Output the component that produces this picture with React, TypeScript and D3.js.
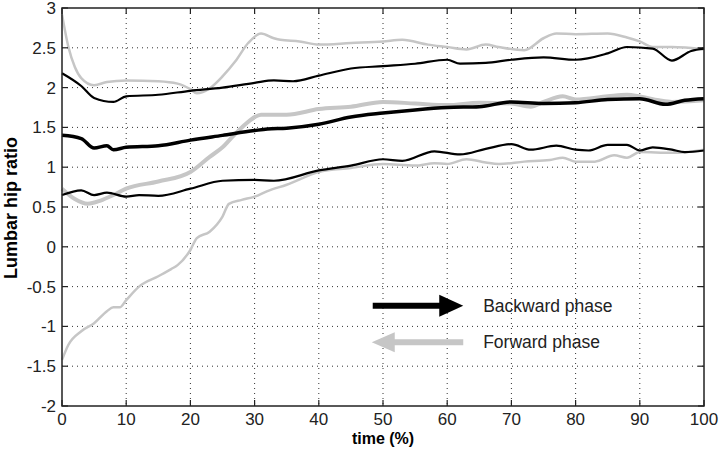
import React from "react";
import * as d3 from "d3";

const W = 719;
const H = 453;

// Backward phase (black)
const backUpperT = [0, 3, 5, 8, 10, 15, 20, 25, 30, 33, 36, 40, 45, 50, 55, 60, 62, 66, 70, 75, 80, 85, 88, 92, 95, 98, 100];
const backUpperV = [2.18, 2.02, 1.87, 1.82, 1.89, 1.91, 1.96, 2.0, 2.06, 2.09, 2.08, 2.15, 2.24, 2.27, 2.3, 2.35, 2.3, 2.31, 2.35, 2.38, 2.35, 2.43, 2.51, 2.49, 2.34, 2.46, 2.49];

const backMeanT = [0, 3, 5, 7, 8, 10, 15, 20, 25, 30, 32, 35, 40, 45, 50, 55, 60, 65, 70, 75, 80, 85, 90, 94, 97, 100];
const backMeanV = [1.4, 1.36, 1.24, 1.27, 1.22, 1.25, 1.27, 1.34, 1.4, 1.46, 1.48, 1.49, 1.54, 1.63, 1.68, 1.72, 1.75, 1.76, 1.82, 1.8, 1.81, 1.85, 1.86, 1.79, 1.84, 1.86];

const backLowerT = [0, 3, 5, 7, 10, 12, 15, 20, 25, 30, 33, 40, 45, 50, 53, 58, 62, 66, 70, 73, 77, 80, 82, 85, 88, 90, 92, 95, 97, 100];
const backLowerV = [0.65, 0.71, 0.65, 0.68, 0.63, 0.65, 0.64, 0.73, 0.83, 0.84, 0.83, 0.96, 1.02, 1.1, 1.08, 1.2, 1.16, 1.23, 1.29, 1.22, 1.27, 1.22, 1.21, 1.28, 1.28, 1.21, 1.25, 1.22, 1.19, 1.21];

// Forward phase (grey)
const fwdUpperT = [0, 1, 2, 3, 5, 7, 10, 15, 18, 20, 21, 23, 25, 27, 29, 31, 33, 34, 37, 40, 45, 50, 53, 57, 60, 63, 66, 68, 72, 75, 77, 80, 85, 88, 90, 92, 95, 100];
const fwdUpperV = [2.92, 2.51, 2.26, 2.12, 2.03, 2.07, 2.09, 2.08, 2.05, 1.98, 1.93, 1.99, 2.14, 2.33, 2.56, 2.68, 2.62, 2.6, 2.58, 2.54, 2.56, 2.58, 2.6, 2.54, 2.51, 2.48, 2.54, 2.51, 2.47, 2.62, 2.68, 2.67, 2.68, 2.63, 2.58, 2.51, 2.51, 2.48];

const fwdMeanT = [0, 2, 4, 6, 8, 10, 15, 20, 23, 25, 27, 29, 31, 33, 35, 40, 45, 50, 55, 60, 65, 70, 73, 75, 78, 80, 85, 88, 90, 93, 95, 100];
const fwdMeanV = [0.73, 0.6, 0.54, 0.58, 0.65, 0.73, 0.82, 0.94, 1.13, 1.25, 1.42, 1.57, 1.66, 1.66, 1.66, 1.73, 1.76, 1.82, 1.8, 1.78, 1.81, 1.8, 1.76, 1.82, 1.89, 1.85, 1.89, 1.91, 1.89, 1.84, 1.82, 1.84];

const fwdLowerT = [0, 1, 3, 5, 7, 8, 9, 10, 12, 15, 17, 18, 20, 21, 23, 25, 26, 28, 30, 32, 35, 40, 45, 50, 55, 58, 60, 63, 66, 68, 72, 76, 78, 80, 83, 86, 88, 90, 95, 100];
const fwdLowerV = [-1.42, -1.23, -1.06, -0.96, -0.81, -0.76, -0.76, -0.67, -0.5, -0.37, -0.28, -0.23, -0.04, 0.11, 0.19, 0.38, 0.54, 0.59, 0.63, 0.7, 0.78, 0.94, 0.99, 1.04, 1.02, 1.05, 1.04, 1.1, 1.06, 1.04, 1.07, 1.09, 1.12, 1.07, 1.07, 1.15, 1.12, 1.19, 1.18, 1.22];

const xTicks = [0, 10, 20, 30, 40, 50, 60, 70, 80, 90, 100];
const yTicks = [-2, -1.5, -1, -0.5, 0, 0.5, 1, 1.5, 2, 2.5, 3];
const legendLabels = ["Backward phase", "Forward phase"];

const GREY = "#c6c6c6";
const FONT = "Arial, 'Liberation Sans', Helvetica, sans-serif";

export default function App() {
  const left = 62, right = 704, top = 8, bottom = 406;
  const x = d3.scaleLinear().domain([0, 100]).range([left, right]);
  const y = d3.scaleLinear().domain([-2, 3]).range([bottom, top]);

  const mk = (ts: number[], vs: number[]) =>
    d3.line<number>().x((_, i) => x(ts[i])).y((v) => y(v)).curve(d3.curveMonotoneX)(vs) || "";

  const series = [
    { t: fwdUpperT, v: fwdUpperV, c: GREY, w: 2.5 },
    { t: fwdLowerT, v: fwdLowerV, c: GREY, w: 2.5 },
    { t: fwdMeanT, v: fwdMeanV, c: GREY, w: 4 },
    { t: backUpperT, v: backUpperV, c: "#000", w: 2.2 },
    { t: backLowerT, v: backLowerV, c: "#000", w: 2.2 },
    { t: backMeanT, v: backMeanV, c: "#000", w: 3.5 },
  ];

  const tick = 6;
  const axisColor = "#222";

  // legend geometry in data coordinates
  const bY = y(-0.74);
  const fY = y(-1.2);
  const aL = x(48.4);
  const aR = x(62.5);
  const txtX = x(65.6);

  return (
    <svg width={W} height={H} style={{ display: "block", position: "absolute", left: 0, top: 0, background: "#fff" }}>
      <rect x={0} y={0} width={W} height={H} fill="#fff" />
      {/* grid */}
      {xTicks.slice(1, -1).map((t) => (
        <line key={"gx" + t} x1={x(t)} x2={x(t)} y1={top} y2={bottom} stroke="#333" strokeWidth={1} strokeDasharray="1,4" />
      ))}
      {yTicks.slice(1, -1).map((t) => (
        <line key={"gy" + t} x1={left} x2={right} y1={y(t)} y2={y(t)} stroke="#333" strokeWidth={1} strokeDasharray="1,4" />
      ))}
      {/* series */}
      {series.map((s, i) => (
        <path key={i} d={mk(s.t, s.v)} fill="none" stroke={s.c} strokeWidth={s.w} strokeLinejoin="round" />
      ))}
      {/* legend */}
      <line x1={aL} x2={aR - 22} y1={bY} y2={bY} stroke="#000" strokeWidth={6} />
      <path d={`M${aR - 24},${bY - 11} L${aR},${bY} L${aR - 24},${bY + 11} Z`} fill="#000" />
      <text x={txtX} y={bY} dy="0.35em" fontSize={17.5} fontFamily={FONT} fill="#222">{legendLabels[0]}</text>
      <line x1={aL + 20} x2={aR} y1={fY} y2={fY} stroke={GREY} strokeWidth={6} />
      <path d={`M${aL + 22},${fY - 10} L${aL - 1},${fY} L${aL + 22},${fY + 10} Z`} fill={GREY} />
      <text x={txtX} y={fY} dy="0.35em" fontSize={17.5} fontFamily={FONT} fill="#222">{legendLabels[1]}</text>
      {/* axes box */}
      <rect x={left} y={top} width={right - left} height={bottom - top} fill="none" stroke={axisColor} strokeWidth={1.5} />
      {xTicks.map((t) => (
        <g key={"xt" + t}>
          <line x1={x(t)} x2={x(t)} y1={bottom} y2={bottom - tick} stroke={axisColor} strokeWidth={1.2} />
          <line x1={x(t)} x2={x(t)} y1={top} y2={top + tick} stroke={axisColor} strokeWidth={1.2} />
          <text x={x(t)} y={bottom + 19} textAnchor="middle" fontSize={17} fontFamily={FONT} fill="#222">{t}</text>
        </g>
      ))}
      {yTicks.map((t) => (
        <g key={"yt" + t}>
          <line x1={left} x2={left + tick} y1={y(t)} y2={y(t)} stroke={axisColor} strokeWidth={1.2} />
          <line x1={right} x2={right - tick} y1={y(t)} y2={y(t)} stroke={axisColor} strokeWidth={1.2} />
          <text x={left - 6} y={y(t)} dy="0.35em" textAnchor="end" fontSize={17} fontFamily={FONT} fill="#222">{t}</text>
        </g>
      ))}
      <text x={(left + right) / 2} y={bottom + 38} textAnchor="middle" fontSize={16} fontWeight="bold" fontFamily={FONT} fill="#000">time (%)</text>
      <text transform={`translate(17,${(top + bottom) / 2 + 1}) rotate(-90)`} textAnchor="middle" fontSize={18} fontWeight="bold" fontFamily={FONT} fill="#000">Lumbar hip ratio</text>
    </svg>
  );
}
